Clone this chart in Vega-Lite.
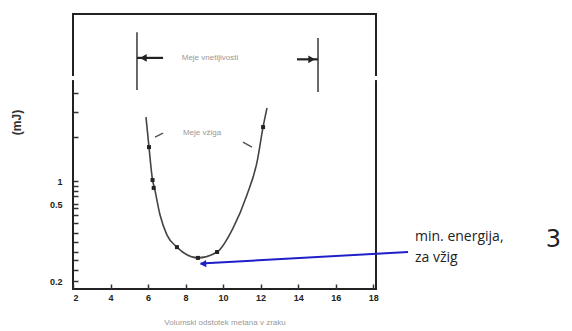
{
  "$schema": "https://vega.github.io/schema/vega-lite/v6.json",
  "width": 303,
  "height": 275,
  "autosize": {"type": "none"},
  "padding": {"left": 73, "top": 14, "right": 196, "bottom": 42},
  "config": {"view": {"stroke": "#222", "strokeWidth": 2}, "font": "Liberation Sans"},
  "encoding": {
    "x": {
      "field": "x", "type": "quantitative",
      "scale": {"domain": [2, 18.15], "nice": false, "zero": false},
      "axis": {
        "values": [2, 4, 6, 8, 10, 12, 14, 16, 18],
        "grid": false, "domain": false,
        "tickSize": -5, "tickColor": "#333", "tickWidth": 1.5,
        "labelPadding": 9, "labelFontSize": 9, "labelFontWeight": "bold", "labelColor": "#222",
        "title": "Volumski odstotek metana v zraku",
        "titleFontSize": 8, "titleFontWeight": "normal", "titleColor": "#999", "titleY": 29
      }
    },
    "y": {
      "field": "y", "type": "quantitative",
      "scale": {"type": "linear", "domain": [0.18, 0.2, 0.5, 1, 8], "range": [275, 267, 190, 167, 0], "nice": false, "zero": false},
      "axis": {
        "values": [0.2, 0.243, 0.282, 0.313, 0.352, 0.387, 0.426, 0.457, 0.484, 0.5, 0.674, 0.783, 0.891, 1, 2.84, 3.89, 4.69],
        "labelExpr": "datum.value == 1 ? '1' : datum.value == 0.5 ? '0.5' : datum.value == 0.2 ? '0.2' : ''",
        "grid": false, "domain": false,
        "tickSize": -5, "tickColor": "#333", "tickWidth": 1.5,
        "labelPadding": 16, "labelFontSize": 9, "labelFontWeight": "bold", "labelColor": "#222",
        "title": "(mJ)", "titleFontSize": 12, "titleFontWeight": "bold", "titleColor": "#333",
        "titleX": -50, "titleY": 108
      }
    }
  },
  "layer": [
    {
      "data": {"values": [{"x": 1.8, "x2": 2.2, "y": 5.4, "y2": 5.23}, {"x": 17.95, "x2": 18.35, "y": 5.4, "y2": 5.23}]},
      "mark": {"type": "rect", "color": "white", "opacity": 1},
      "encoding": {"x2": {"field": "x2"}, "y2": {"field": "y2"}}
    },
    {
      "data": {"values": [
        {"x": 5.89, "y": 3.68}, {"x": 6.05, "y": 2.42}, {"x": 6.24, "y": 1.04}, {"x": 6.34, "y": 0.85},
        {"x": 6.64, "y": 0.457}, {"x": 7.01, "y": 0.379}, {"x": 7.54, "y": 0.332}, {"x": 8.66, "y": 0.29},
        {"x": 9.68, "y": 0.313}, {"x": 10.53, "y": 0.406}, {"x": 11.27, "y": 0.696}, {"x": 11.81, "y": 1.8},
        {"x": 12.13, "y": 3.26}, {"x": 12.34, "y": 4.06}
      ]},
      "mark": {"type": "line", "interpolate": "monotone", "color": "#444", "strokeWidth": 1.6}
    },
    {
      "data": {"values": [
        {"x": 6.05, "y": 2.42}, {"x": 6.24, "y": 1.04}, {"x": 6.3, "y": 0.85}, {"x": 7.54, "y": 0.332},
        {"x": 8.66, "y": 0.29}, {"x": 9.68, "y": 0.313}, {"x": 12.13, "y": 3.26}
      ]},
      "mark": {"type": "square", "size": 16, "color": "#222", "opacity": 1}
    },
    {
      "data": {"values": [{"x": 5.41, "y": 7.24, "y2": 4.81}, {"x": 15.06, "y": 6.99, "y2": 4.73}]},
      "mark": {"type": "rule", "color": "#444", "strokeWidth": 1.6},
      "encoding": {"y2": {"field": "y2"}}
    },
    {
      "data": {"values": [{"x": 5.41, "x2": 6.8, "y": 6.16}, {"x": 13.94, "x2": 15.06, "y": 6.1}]},
      "mark": {"type": "rule", "color": "#222", "strokeWidth": 2.2},
      "encoding": {"x2": {"field": "x2"}}
    },
    {
      "data": {"values": [{"x": 5.75, "y": 6.16, "shape": "triangle-left"}, {"x": 14.72, "y": 6.1, "shape": "triangle-right"}]},
      "mark": {"type": "point", "filled": true, "size": 60, "color": "#222", "opacity": 1},
      "encoding": {"shape": {"field": "shape", "type": "nominal", "scale": null}}
    },
    {
      "data": {"values": [{"x": 6.8, "y": 3.01, "x2": 6.37, "y2": 2.84}, {"x": 11.06, "y": 2.63, "x2": 11.54, "y2": 2.42}]},
      "mark": {"type": "rule", "color": "#555", "strokeWidth": 1.5},
      "encoding": {"x2": {"field": "x2"}, "y2": {"field": "y2"}}
    },
    {
      "data": {"values": [{"x": 9.3, "y": 6.16, "t": "Meje vnetljivosti"}, {"x": 8.88, "y": 3.01, "t": "Meje vžiga"}]},
      "mark": {"type": "text", "fontSize": 8, "color": "#999", "align": "center", "baseline": "middle"},
      "encoding": {"text": {"field": "t"}}
    },
    {
      "data": {"values": [{"x": 19.86, "y": 0.313, "x2": 8.8, "y2": 0.268}]},
      "mark": {"type": "rule", "color": "#1f1fc8", "strokeWidth": 2},
      "encoding": {"x2": {"field": "x2"}, "y2": {"field": "y2"}}
    },
    {
      "data": {"values": [{"x": 8.93, "y": 0.267}]},
      "mark": {"type": "point", "shape": "triangle-left", "filled": true, "size": 55, "color": "#1f1fc8", "opacity": 1, "angle": -3}
    },
    {
      "data": {"values": [{"x": 20.23, "y": 0.371, "t": "min. energija,"}, {"x": 20.23, "y": 0.29, "t": "za vžig"}]},
      "mark": {"type": "text", "fontSize": 14, "font": "Open Sans", "color": "#222", "align": "left", "baseline": "middle"},
      "encoding": {"text": {"field": "t"}}
    },
    {
      "data": {"values": [{"x": 27.6, "y": 0.36, "t": "3"}]},
      "mark": {"type": "text", "fontSize": 24, "font": "DejaVu Sans", "color": "#222", "align": "center", "baseline": "middle"},
      "encoding": {"text": {"field": "t"}}
    }
  ]
}
